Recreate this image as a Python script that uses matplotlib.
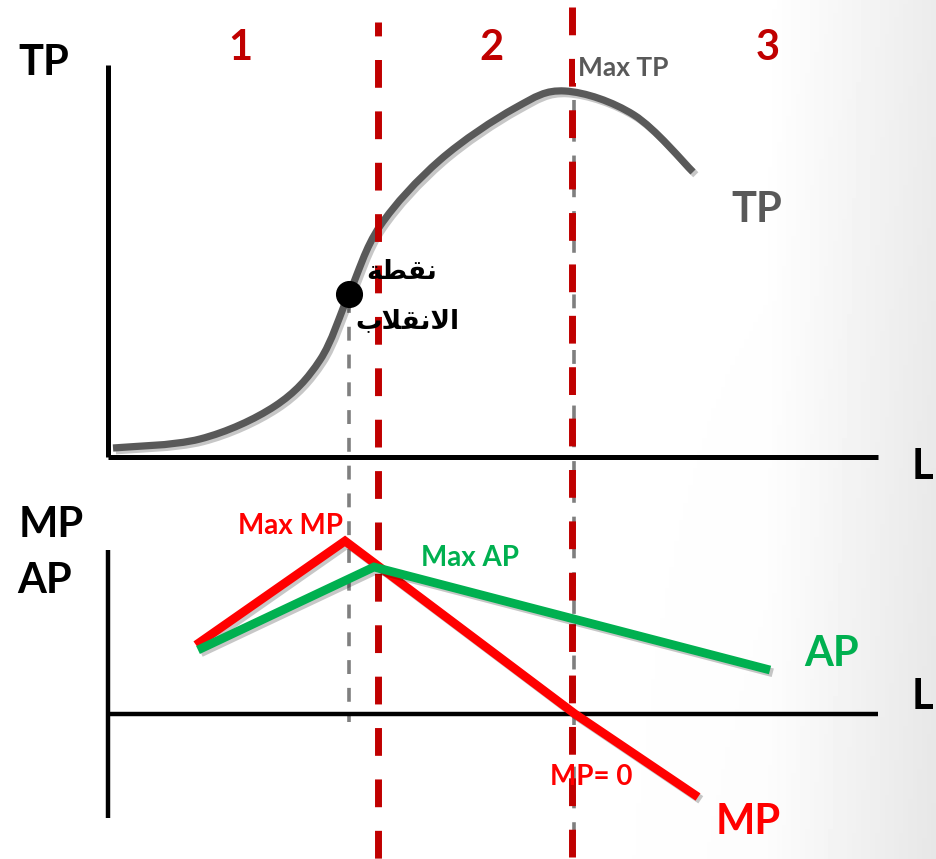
import numpy as np
import matplotlib.pyplot as plt
import matplotlib.patheffects as pe
from matplotlib.path import Path
from matplotlib.patches import PathPatch

plt.rcParams['lines.scale_dashes'] = False

# Stages of production: TP curve (top), MP and AP (bottom)
# x = units of labour L
tp_L = [5, 92, 167, 212, 241, 272, 332, 407, 457, 526, 585]
tp_vals = [9, 18, 51, 97, 163, 231, 297, 349, 366, 342, 285]

mp_L = [88, 237, 467, 590]
mp_vals = [69, 173, 0, -83]

ap_L = [90, 266, 662]
ap_vals = [64, 147, 44]

inflection = (241, 163)
stage_bounds = [270, 464]        # end of stage 1 (max AP), end of stage 2 (MP = 0)
stage_labels = ['1', '2', '3']
stage_label_L = [132, 383, 660]


def smooth_path(xs, ys):
    # cubic bezier through the points (catmull-rom tangents)
    p = np.column_stack([xs, ys]).astype(float)
    verts = [p[0]]
    codes = [Path.MOVETO]
    for i in range(len(p) - 1):
        p0 = p[i - 1] if i > 0 else p[i]
        p3 = p[i + 2] if i + 2 < len(p) else p[i + 1]
        c1 = p[i] + (p[i + 1] - p0) / 6
        c2 = p[i + 1] - (p3 - p[i]) / 6
        verts += [c1, c2, p[i + 1]]
        codes += [Path.CURVE4] * 3
    return Path(verts, codes)


W, H = 936, 859
fig = plt.figure(figsize=(W / 100, H / 100), dpi=100)

# background with a faint grey fade to the right
ax_bg = fig.add_axes([0, 0, 1, 1])
ax_bg.set_xlim(0, W)
ax_bg.set_ylim(H, 0)
gx, gy = np.meshgrid(np.linspace(0, 1, 200), np.linspace(0, 1, 200))
shade = 1 - 0.075 * np.clip((gx - 0.82) / 0.18, 0, 1) - 0.02 * np.clip((gx - 0.6) / 0.4, 0, 1) * gy
ax_bg.imshow(shade, cmap='gray', vmin=0, vmax=1, extent=[0, W, H, 0], aspect='auto')
ax_bg.axis('off')

# both panels share the same L scale; L = 0 sits at x = 108 px
ax1 = fig.add_axes([0, 0, 1, 1])
ax1.set_xlim(-108, W - 108)
ax1.set_ylim(457 - H, 457)
ax1.axis('off')

ax2 = fig.add_axes([0, 0, 1, 1])
ax2.set_xlim(-108, W - 108)
ax2.set_ylim(714 - H, 714)
ax2.axis('off')

shadow = [pe.SimpleLineShadow(offset=(2, -2), alpha=0.22, shadow_color='black'), pe.Normal()]

font = 'Lato'
dark_red = '#C00000'
grey = '#595959'

# axes of the diagram
ax1.plot([0, 0], [0, 392], color='black', lw=3.6, solid_capstyle='butt')
ax1.plot([0, 770], [0, 0], color='black', lw=3.6, solid_capstyle='butt')
ax2.plot([0, 0], [164, -104], color='black', lw=3.2, solid_capstyle='butt')
ax2.plot([0, 770], [0, 0], color='black', lw=3.2, solid_capstyle='butt')

# grey guide lines
ax1.plot([inflection[0], inflection[0]], [inflection[1] - 5, 457 - 722], color='#7f7f7f',
         lw=2.6, linestyle=(0, (10, 10)), zorder=2)
ax1.plot([466, 466], [357, 457 - 855], color='#7f7f7f', lw=2.6, linestyle=(0, (10, 10)), zorder=2)

# TP curve
tp_patch = PathPatch(smooth_path(tp_L, tp_vals), facecolor='none', edgecolor=grey, lw=5.2,
                     capstyle='butt', path_effects=shadow, zorder=3)
ax1.add_patch(tp_patch)
ax1.plot(*inflection, 'o', color='black', ms=18.5, zorder=6)

# MP and AP
ax2.plot(mp_L, mp_vals, color='#FF0000', lw=6.3, solid_joinstyle='miter',
         solid_capstyle='butt', path_effects=shadow, zorder=4)
ax2.plot(ap_L, ap_vals, color='#00B050', lw=6.3, solid_joinstyle='miter',
         solid_capstyle='butt', path_effects=shadow, zorder=5)

# stage boundaries (red dashed)
ax1.plot([stage_bounds[0]] * 2, [457 - 22, 457 - H], color=dark_red, lw=5,
         linestyle=(10, (20, 17)), zorder=7)
ax1.plot([stage_bounds[1]] * 2, [457 - 7, 457 - H], color=dark_red, lw=5,
         linestyle=(0, (20, 17)), zorder=7)

# texts
big = dict(fontsize=30, fontweight='bold', family=font, ha='center', va='center')
mid = dict(fontsize=20, fontweight='bold', family=font, ha='center', va='center')

ax1.text(-64, 394, 'TP', color='black', **big)
ax1.text(814, -10, 'L', color='black', **big)
for lab, pos in zip(stage_labels, stage_label_L):
    ax1.text(pos, 409, lab, color=dark_red, **big)
ax1.text(470, 389, 'Max TP', color=grey, fontsize=19, fontweight='bold', family=font,
         ha='left', va='center', zorder=8,
         bbox=dict(facecolor='white', edgecolor='none', pad=2))
ax1.text(649, 247, 'TP', color=grey, **big)

# Arabic "نقطة الانقلاب" (inflection point), in presentation forms, visual order
ax1.text(294, 185, '\uFE94\uFEC4\uFED8\uFEE7', color='black', fontsize=19, fontweight='bold',
         family=['DejaVu Sans'], ha='center', va='center', zorder=8)
ax1.text(299, 136, '\uFE8F\uFEFC\uFED8\uFEE7\uFEFB\uFE8D', color='black', fontsize=19,
         fontweight='bold', family=['DejaVu Sans'], ha='center', va='center', zorder=8)

ax2.text(-57, 189, 'MP', color='black', **big)
ax2.text(-63, 133, 'AP', color='black', **big)
ax2.text(814, 17, 'L', color='black', **big)
ax2.text(183, 188, 'Max MP', color='#FF0000', **mid)
ax2.text(362, 156, 'Max AP', color='#00B050', **mid)
ax2.text(724, 60, 'AP', color='#00B050', **big)
ax2.text(640, -108, 'MP', color='#FF0000', **big)
ax2.text(483, -63, 'MP= 0', color='#FF0000', zorder=8, **mid)

fig.savefig('out.png', dpi=100)
